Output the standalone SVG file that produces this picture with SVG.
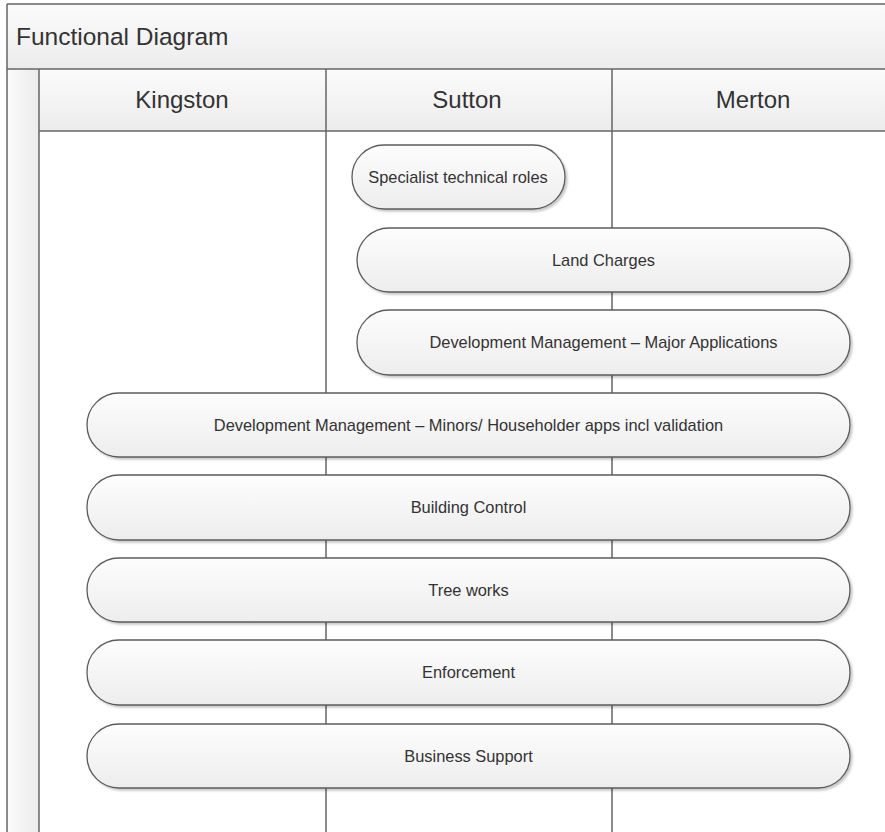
<svg xmlns="http://www.w3.org/2000/svg" width="885" height="832" viewBox="0 0 885 832">
<style>
.frame{stroke:#666;stroke-width:1.5;fill:none}
.band{fill:url(#bandGrad)}
.node rect{fill:url(#nodeGrad);stroke:#5c5c5c;stroke-width:1.3;filter:url(#shadow)}
.node text{font-family:"Liberation Sans",Arial,sans-serif;font-size:16.4px;fill:#333;text-anchor:middle}
.title{font-family:"Liberation Sans",Arial,sans-serif;font-size:24.5px;fill:#333}
.lane{font-family:"Liberation Sans",Arial,sans-serif;font-size:24px;fill:#333;text-anchor:middle}
</style>
<defs>
<linearGradient id="bandGrad" x1="0" y1="0" x2="0" y2="1">
<stop offset="0" stop-color="#fbfbfb"/>
<stop offset="1" stop-color="#ececec"/>
</linearGradient>
<linearGradient id="stripGrad" x1="0" y1="0" x2="1" y2="0">
<stop offset="0" stop-color="#fbfbfb"/>
<stop offset="1" stop-color="#ebebeb"/>
</linearGradient>
<linearGradient id="nodeGrad" x1="0" y1="0" x2="0" y2="1">
<stop offset="0" stop-color="#fdfdfd"/>
<stop offset="1" stop-color="#ededed"/>
</linearGradient>
<filter id="shadow" x="-5%" y="-10%" width="112%" height="130%">
<feDropShadow dx="2" dy="2" stdDeviation="1.3" flood-color="#000" flood-opacity="0.22"/>
</filter>
</defs>
<rect width="885" height="832" fill="#fff"/>
<g id="pool">
<rect class="band" x="7" y="4" width="880" height="65"/>
<rect x="7" y="69" width="32" height="765" fill="url(#stripGrad)"/>
<rect class="band" x="39" y="69" width="848" height="62"/>
<text class="title" x="16" y="45">Functional Diagram</text>
</g>
<g id="lanes">
<text class="lane" x="182" y="108">Kingston</text>
<text class="lane" x="467" y="108">Sutton</text>
<text class="lane" x="753" y="108">Merton</text>
<path class="frame" d="M7,4 H887 M7,4 V834 M7,69 H887 M39,69 V834 M39,131 H887 M326,69 V834 M612,69 V834"/>
</g>
<g id="connectors"></g>
<g id="n1" class="node"><rect x="352" y="145" width="213" height="64" rx="32"/><text x="458" y="183">Specialist technical roles</text></g>
<g id="n2" class="node"><rect x="357" y="228" width="493" height="64" rx="32"/><text x="603.5" y="266">Land Charges</text></g>
<g id="n3" class="node"><rect x="357" y="310" width="493" height="65" rx="32"/><text x="603.5" y="348">Development Management – Major Applications</text></g>
<g id="n4" class="node"><rect x="87" y="393" width="763" height="64" rx="32"/><text x="468.5" y="431">Development Management – Minors/ Householder apps incl validation</text></g>
<g id="n5" class="node"><rect x="87" y="475" width="763" height="65" rx="32"/><text x="468.5" y="513">Building Control</text></g>
<g id="n6" class="node"><rect x="87" y="558" width="763" height="64" rx="32"/><text x="468.5" y="596">Tree works</text></g>
<g id="n7" class="node"><rect x="87" y="640" width="763" height="65" rx="32"/><text x="468.5" y="678">Enforcement</text></g>
<g id="n8" class="node"><rect x="87" y="724" width="763" height="64" rx="32"/><text x="468.5" y="762">Business Support</text></g>
</svg>
